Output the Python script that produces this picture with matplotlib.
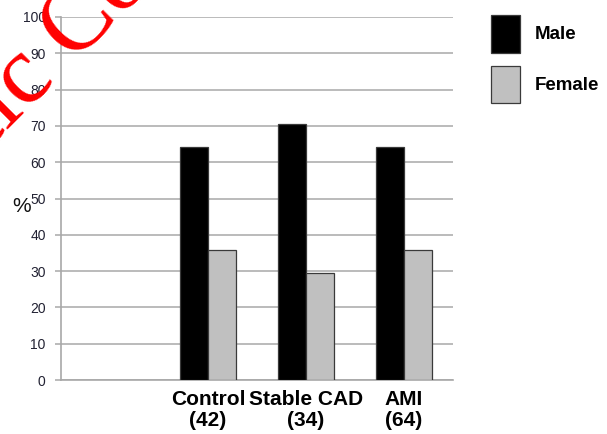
import matplotlib
matplotlib.use("Agg")
import matplotlib.pyplot as plt
from matplotlib.patches import Patch
import numpy as np

plt.rcParams['font.family'] = ['Liberation Sans', 'DejaVu Sans']

# Data
categories = ['', 'Control\n(42)', 'Stable CAD\n(34)', 'AMI\n(64)']
male = [np.nan, 64.3, 70.6, 64.1]
female = [np.nan, 35.7, 29.4, 35.9]
yticks = list(range(0, 101, 10))

W, H = 607, 434
fig = plt.figure(figsize=(W / 100, H / 100), dpi=100)
ax = fig.add_axes([61 / W, 1 - 380 / H, (453 - 61) / W, (380 - 17) / H])

grid_c = '#a8a8a8'
x = np.arange(len(categories))
bw = 0.29
ax.bar(x - bw / 2, male, bw, color='#000000', edgecolor='#3a3a3a', linewidth=0.9, zorder=3)
ax.bar(x + bw / 2, female, bw, color='#c0c0c0', edgecolor='#3a3a3a', linewidth=0.9, zorder=3)

ax.set_xlim(-0.5, len(categories) - 0.5)
ax.set_ylim(0, 100)
ax.set_yticks(yticks)
ax.set_yticklabels([str(t) for t in yticks], fontsize=10, color='#222233')
ax.set_xticks(x)
ax.set_xticklabels(categories, fontsize=15, fontweight='bold', linespacing=1.12)
ax.tick_params(axis='x', length=0, pad=7)
ax.tick_params(axis='y', length=4, width=1.1, color=grid_c, pad=7)

ax.yaxis.grid(True, color=grid_c, linewidth=1.1, zorder=0)
ax.set_axisbelow(True)
for s in ['top', 'right']:
    ax.spines[s].set_visible(False)
for s in ['left', 'bottom']:
    ax.spines[s].set_color(grid_c)
    ax.spines[s].set_linewidth(1.2)

fig.text(22 / W, 1 - 206 / H, '%', fontsize=15, ha='center', va='center', color='#111111')

handles = [Patch(facecolor='#000000', edgecolor='#3a3a3a', linewidth=0.9, label='Male'),
           Patch(facecolor='#c0c0c0', edgecolor='#3a3a3a', linewidth=0.9, label='Female')]
fig.legend(handles=handles, loc='upper left', bbox_to_anchor=(491 / W, 1 - 15 / H),
           frameon=False, borderpad=0, borderaxespad=0,
           prop={'size': 13.5, 'weight': 'bold'},
           handlelength=1.55, handleheight=2.7, labelspacing=0.7, handletextpad=0.8)

# Red watermark stamp across the upper-left corner
fig.text(-215, 82, 'Authentic Copy', transform=None, rotation=45, rotation_mode='anchor',
         ha='left', va='baseline', fontsize=70, color='#ff0000',
         family=['Liberation Serif', 'DejaVu Serif'], zorder=10)

fig.savefig('out.png', dpi=100)
